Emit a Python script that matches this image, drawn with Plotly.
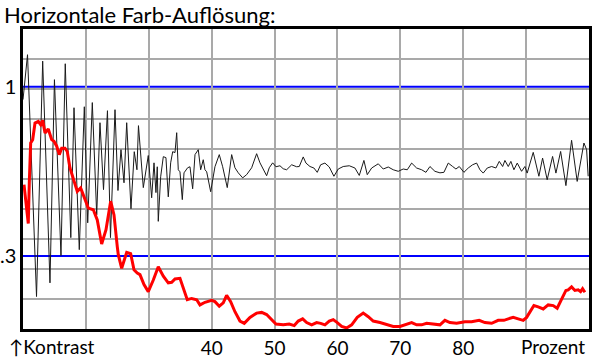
import plotly.graph_objects as go

TITLE = "Horizontale Farb-Auflösung:"

# Black curve (percent, contrast)
PCT_BLACK = [10.0, 10.72, 12.15, 13.13, 14.29, 15.0, 16.04, 16.72, 17.6, 18.11, 18.95, 19.75, 20.29, 21.02,
             21.72, 22.24, 22.8, 23.43, 23.91, 24.63, 25.1, 25.58, 26.06, 26.49, 27.17, 27.69, 28.12, 28.36,
             29.13, 29.92, 30.46, 30.83, 31.14, 31.35, 31.51, 31.89, 32.31, 32.73, 33.1, 33.48, 33.8, 34.17,
             34.44, 34.69, 34.96, 35.33, 35.6, 36.18, 36.55, 36.98, 37.35, 37.87, 38.25, 38.66, 38.93, 39.21,
             39.84, 40.52, 41.21, 41.75, 42.48, 43.18, 43.7, 44.23, 44.93, 45.56, 46.36, 47.15, 47.68, 48.11,
             48.74, 49.16, 49.7, 50.22, 50.86, 51.38, 51.92, 52.72, 53.51, 53.93, 54.56, 54.99, 55.63, 56.26,
             56.79, 57.33, 58.01, 58.7, 59.44, 60.13, 60.92, 61.88, 62.78, 63.47, 64.21, 64.74, 65.44, 66.49,
             67.28, 68.08, 68.87, 69.67, 70.46, 71.1, 71.8, 72.59, 73.39, 74.07, 74.71, 75.5, 76.3, 76.93,
             77.62, 78.32, 78.84, 79.37, 80.11, 80.8, 81.49, 82.13, 82.66, 83.18, 83.82, 84.52, 85.2, 85.73,
             86.27, 86.63, 87.16, 87.58, 88.06, 88.59, 89.28, 89.81, 90.17, 91.13, 92.03, 92.62, 93.35, 94.21,
             94.74, 95.49, 96.33, 97.23, 98.12, 99.19, 99.62, 99.87]
KONTRAST_BLACK = [0.912, 1.255, 0.225, 1.199, 0.248, 1.051, 0.301, 1.177, 0.342, 0.861, 0.314, 0.867, 0.38, 0.893,
                  0.402, 0.774, 0.481, 0.843, 0.342, 0.849, 0.478, 0.639, 0.505, 0.774, 0.42, 0.63, 0.554, 0.758,
                  0.488, 0.613, 0.454, 0.582, 0.471, 0.566, 0.384, 0.527, 0.608, 0.604, 0.457, 0.582, 0.63, 0.626,
                  0.721, 0.554, 0.546, 0.448, 0.542, 0.562, 0.566, 0.484, 0.617, 0.639, 0.554, 0.595, 0.554, 0.546,
                  0.474, 0.566, 0.617, 0.566, 0.488, 0.617, 0.562, 0.542, 0.523, 0.535, 0.562, 0.621, 0.582, 0.562,
                  0.531, 0.562, 0.582, 0.566, 0.57, 0.558, 0.554, 0.574, 0.566, 0.567, 0.607, 0.581, 0.567, 0.561,
                  0.544, 0.574, 0.581, 0.565, 0.529, 0.557, 0.567, 0.57, 0.561, 0.532, 0.592, 0.535, 0.561, 0.578,
                  0.557, 0.565, 0.554, 0.548, 0.557, 0.554, 0.581, 0.561, 0.554, 0.544, 0.567, 0.548, 0.542, 0.544,
                  0.581, 0.567, 0.557, 0.567, 0.544, 0.561, 0.574, 0.581, 0.554, 0.541, 0.561, 0.567, 0.561, 0.588,
                  0.567, 0.592, 0.567, 0.588, 0.554, 0.581, 0.548, 0.567, 0.541, 0.627, 0.529, 0.602, 0.516, 0.609,
                  0.541, 0.631, 0.495, 0.683, 0.51, 0.67, 0.639, 0.529]

# Red curve (percent, contrast)
PCT_RED = [10.16, 10.59, 10.84, 11.0, 11.22, 11.54, 11.91, 12.43, 12.81, 13.13, 13.5, 14.02, 14.56, 14.93, 15.36,
           15.77, 16.15, 16.68, 17.04, 17.47, 18.0, 18.63, 19.17, 19.86, 20.38, 21.18, 21.81, 22.51, 23.2, 23.94,
           24.47, 24.99, 25.15, 25.69, 26.49, 27.12, 27.65, 28.17, 28.6, 29.24, 29.92, 30.72, 31.51, 32.31, 33.1,
           33.64, 34.17, 34.96, 35.76, 36.12, 36.82, 37.62, 38.14, 38.94, 40.0, 40.52, 41.21, 41.84, 42.38, 43.02,
           43.7, 44.5, 45.18, 46.09, 47.15, 47.95, 48.74, 49.54, 50.22, 51.38, 52.34, 53.13, 53.77, 54.47, 55.1,
           55.9, 56.69, 57.33, 58.01, 58.7, 59.33, 59.97, 60.67, 61.46, 62.26, 63.15, 64.1, 64.9, 65.69, 66.76,
           67.82, 68.87, 69.94, 70.73, 71.8, 72.59, 73.39, 74.18, 75.23, 76.3, 77.09, 77.89, 78.95, 80.27, 81.33,
           82.54, 83.45, 84.52, 85.56, 86.47, 87.16, 87.95, 88.74, 89.54, 90.08, 90.6, 91.24, 91.92, 92.72, 93.51,
           94.31, 94.94, 95.64, 96.33, 96.69, 97.23, 97.76, 98.28, 98.66, 98.98, 99.35]
KONTRAST_RED = [0.498, 0.427, 0.378, 0.505, 0.67, 0.686, 0.772, 0.781, 0.763, 0.787, 0.719, 0.74, 0.686, 0.678, 0.655,
                0.617, 0.646, 0.646, 0.631, 0.561, 0.516, 0.475, 0.487, 0.448, 0.422, 0.417, 0.388, 0.327, 0.362, 0.443,
                0.402, 0.321, 0.303, 0.275, 0.308, 0.305, 0.272, 0.266, 0.263, 0.245, 0.233, 0.253, 0.278, 0.26, 0.248,
                0.249, 0.255, 0.256, 0.233, 0.22, 0.222, 0.22, 0.212, 0.216, 0.219, 0.217, 0.21, 0.215, 0.227, 0.217,
                0.202, 0.189, 0.186, 0.194, 0.2, 0.201, 0.198, 0.191, 0.185, 0.184, 0.185, 0.183, 0.189, 0.192, 0.187,
                0.184, 0.187, 0.186, 0.184, 0.189, 0.191, 0.187, 0.182, 0.18, 0.184, 0.194, 0.2, 0.195, 0.189, 0.187,
                0.184, 0.182, 0.182, 0.184, 0.187, 0.184, 0.184, 0.186, 0.185, 0.184, 0.19, 0.187, 0.186, 0.188, 0.188,
                0.19, 0.187, 0.186, 0.19, 0.19, 0.192, 0.194, 0.192, 0.19, 0.194, 0.202, 0.211, 0.209, 0.206, 0.212,
                0.211, 0.207, 0.22, 0.235, 0.236, 0.241, 0.235, 0.236, 0.233, 0.238, 0.232]

X_GRID = [20, 30, 40, 50, 60, 70, 80, 90]
X_TICK_TEXT = ["", "", "40", "50", "60", "70", "80", ""]
Y_TICKS = [1, 0.3]
Y_TICK_TEXT = ["1", ".3"]
BLUE_LEVELS = [1, 0.3]
X_LABEL_LEFT = "↑Kontrast"
X_LABEL_RIGHT = "Prozent"

FONT = "Lato"
GRID = "#a9a9a9"

fig = go.Figure()
fig.add_trace(go.Scatter(x=PCT_BLACK, y=KONTRAST_BLACK, mode="lines",
                         line=dict(color="#1a1a1a", width=1), hoverinfo="skip"))
fig.add_trace(go.Scatter(x=PCT_RED, y=KONTRAST_RED, mode="lines",
                         line=dict(color="#ff0000", width=3), hoverinfo="skip"))
# invisible trace so the overlay grid axis is drawn
fig.add_trace(go.Scatter(x=[None], y=[None], yaxis="y2", showlegend=False, hoverinfo="skip"))

for lvl in BLUE_LEVELS:
    fig.add_shape(type="line", xref="paper", x0=0, x1=1, yref="y", y0=lvl, y1=lvl,
                  line=dict(color="#0000ff", width=2), layer="below")

fig.update_layout(
    width=600, height=364,
    margin=dict(l=23, r=11, t=29, b=35),
    paper_bgcolor="white", plot_bgcolor="white",
    showlegend=False,
    font=dict(family=FONT, color="black"),
    title=dict(text=TITLE, x=4 / 600, xanchor="left", y=1 - 15 / 364, yanchor="middle",
               font=dict(family=FONT, size=22, color="black")),
    xaxis=dict(range=[10, 100], tickvals=X_GRID, ticktext=X_TICK_TEXT, ticks="",
               showgrid=True, gridcolor=GRID, gridwidth=1.5, zeroline=False, automargin=False,
               showline=True, linecolor="black", linewidth=2.5, mirror=True,
               tickfont=dict(family=FONT, size=19, color="black")),
    yaxis=dict(type="log", range=[-0.748, 0.178], tickvals=Y_TICKS, ticktext=Y_TICK_TEXT, ticks="",
               showgrid=False, zeroline=False, automargin=False,
               showline=True, linecolor="black", linewidth=2.5, mirror=True,
               tickfont=dict(family=FONT, size=20, color="black")),
    yaxis2=dict(overlaying="y", range=[0, 10], dtick=1, showgrid=True, gridcolor=GRID, gridwidth=1.5,
                showticklabels=False, ticks="", zeroline=False, showline=False, automargin=False),
    annotations=[
        dict(text=X_LABEL_LEFT, xref="paper", yref="paper", x=-16 / 566, y=0, xanchor="left",
             yanchor="top", yshift=-4, showarrow=False, font=dict(family=FONT, size=19, color="black")),
        dict(text=X_LABEL_RIGHT, xref="paper", yref="paper", x=1 - 2 / 566, y=0, xanchor="right",
             yanchor="top", yshift=-4, showarrow=False, font=dict(family=FONT, size=19, color="black")),
    ],
)

fig.write_html("out.html")
